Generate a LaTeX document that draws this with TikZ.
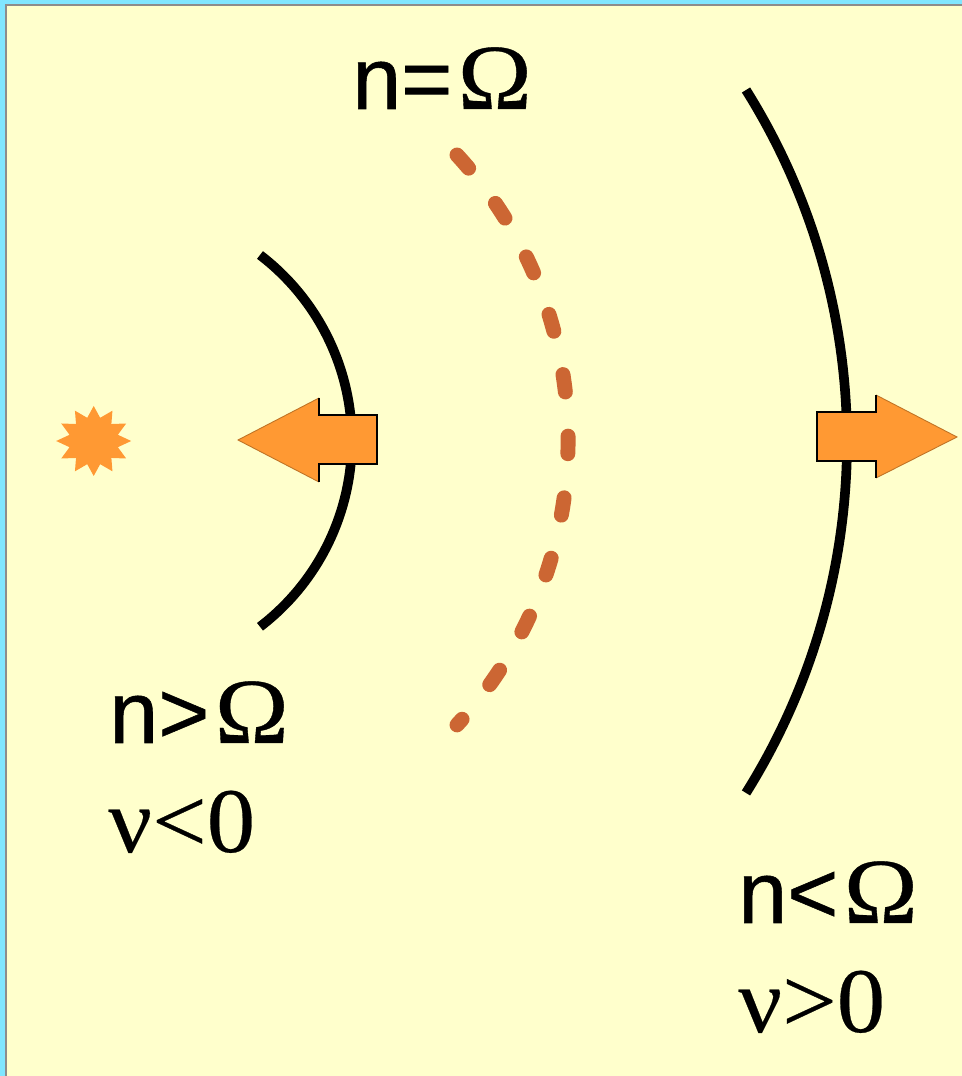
\documentclass[tikz,border=0pt]{standalone}
\usepackage{fontspec}
\setmainfont[FakeBold=0.6]{Liberation Sans}
\newfontfamily\symfont[FakeStretch=1.05,FakeBold=0.3]{Liberation Serif}
\newfontfamily\omegafont[FakeStretch=1.07,FakeBold=0.4]{Liberation Serif}
\definecolor{panelcyan}{HTML}{80E6FF}
\definecolor{panelgray}{HTML}{8C8C8C}
\definecolor{panelyellow}{HTML}{FFFFCC}
\definecolor{arroworange}{HTML}{FF9933}
\definecolor{dashrust}{HTML}{CC6633}
\newcommand{\bigomega}{\kern 3pt{\fontsize{53}{60}\omegafont Ω}}
\begin{document}
\begin{tikzpicture}[
    x=0.02cm,
    y=0.02cm,
    front/.style={line width=5.5pt, black},
    resonance/.style={line width=8.5pt, dashrust, line cap=round, dash pattern=on 10pt off 25.2pt},
    arrowfill/.style={fill=arroworange, draw=none},
    arrowedge/.style={draw=black, line width=0.6pt},
    arrowslant/.style={draw=arroworange!75!black, line width=0.5pt},
    label/.style={anchor=base west, inner sep=0pt, font=\fontsize{50}{60}\selectfont},
    ratelabel/.style={anchor=base west, inner sep=0pt, font=\fontsize{52.5}{60}\selectfont}
]
\useasboundingbox (0,0) rectangle (962,1076);

% Panel background
\fill[panelcyan] (0,0) rectangle (962,1076);
\fill[panelgray] (5,0) rectangle (962,1072);
\fill[panelyellow] (7,0) rectangle (962,1070);

% Wave fronts
\draw[front] (260,821) arc[start angle=52.6, end angle=-52.6, radius=234];
\draw[front] (746,986) arc[start angle=32.07, end angle=-32.07, radius=662];
\draw[resonance] (457,921) arc[start angle=42.6, end angle=-42.6, radius=421];

% Source
\fill[arroworange] (131.2,635)
  \foreach \a in {0,30,...,330}{
    -- ({93.7+37.5*cos(\a)},{635+35*sin(\a)})
    -- ({93.7+25*cos(\a+15)},{635+24*sin(\a+15)})
  } -- cycle;

% Left arrow
\fill[arrowfill] (238,636) -- (319,678) -- (319,661) -- (377,661) -- (377,612) -- (319,612) -- (319,594) -- cycle;
\draw[arrowslant] (319,678) -- (238,636) -- (319,594);
\draw[arrowedge] (319,678) -- (319,661) -- (377,661) -- (377,612) -- (319,612) -- (319,594);

% Right arrow
\fill[arrowfill] (957,639) -- (876,681) -- (876,664) -- (817,664) -- (817,615) -- (876,615) -- (876,598) -- cycle;
\draw[arrowslant] (876,681) -- (957,639) -- (876,598);
\draw[arrowedge] (876,681) -- (876,664) -- (817,664) -- (817,615) -- (876,615) -- (876,598);

% Labels
\node[label] (nequal) at (352,967) {n=\bigomega};
\node[label] (ngreater) at (109,333) {n>\bigomega};
\node[ratelabel] (vnegative) at (108,224) {\symfont ν<0};
\node[label] (nless) at (738,153) {n<\bigomega};
\node[ratelabel] (vpositive) at (738,44) {\symfont ν>0};
\end{tikzpicture}
\end{document}
